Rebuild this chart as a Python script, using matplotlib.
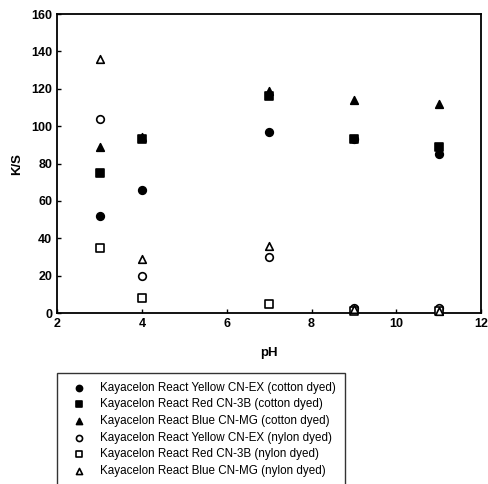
import matplotlib
matplotlib.use("Agg")
import matplotlib.pyplot as plt

plt.rcParams['font.family'] = ['Liberation Sans', 'DejaVu Sans']

ph = [3, 4, 7, 9, 11]

# K/S values
yellow_cotton = [52, 66, 97, 93, 85]
red_cotton = [75, 93, 116, 93, 89]
blue_cotton = [89, 94, 119, 114, 112]
yellow_nylon = [104, 20, 30, 3, 3]
red_nylon = [35, 8, 5, 1, 1]
blue_nylon = [136, 29, 36, 2, 1]

labels = [
    "Kayacelon React Yellow CN-EX (cotton dyed)",
    "Kayacelon React Red CN-3B (cotton dyed)",
    "Kayacelon React Blue CN-MG (cotton dyed)",
    "Kayacelon React Yellow CN-EX (nylon dyed)",
    "Kayacelon React Red CN-3B (nylon dyed)",
    "Kayacelon React Blue CN-MG (nylon dyed)",
]

fig = plt.figure(figsize=(4.88, 4.84), dpi=100)
ax = fig.add_axes([0.117, 0.353, 0.869, 0.618])

series = [yellow_cotton, red_cotton, blue_cotton, yellow_nylon, red_nylon, blue_nylon]
markers = ['o', 's', '^', 'o', 's', '^']
filled = [True, True, True, False, False, False]

handles = []
for vals, m, f, lab in zip(series, markers, filled, labels):
    h = ax.scatter(ph, vals, marker=m, s=30,
                   facecolors='black' if f else 'white',
                   edgecolors='black', linewidths=1.2, label=lab, zorder=3,
                   clip_on=False)
    handles.append(h)

ax.set_xlim(2, 12)
ax.set_ylim(0, 160)
ax.set_xticks([2, 4, 6, 8, 10, 12])
ax.set_yticks(range(0, 161, 20))
ax.tick_params(direction='in', length=3, width=1, labelsize=9)
for t in ax.get_xticklabels() + ax.get_yticklabels():
    t.set_fontweight('bold')
for s in ax.spines.values():
    s.set_linewidth(1.3)

ax.set_xlabel("pH", fontsize=9.5, fontweight='bold', labelpad=12)
ax.set_ylabel("K/S", fontsize=9.5, fontweight='bold', labelpad=6)

leg = fig.legend(handles=handles, loc='upper left',
                 bbox_to_anchor=(57 / 488, 1 - 373 / 484),
                 borderaxespad=0.0,
                 fontsize=8.4, frameon=True, fancybox=False,
                 edgecolor='black', borderpad=0.75, labelspacing=0.4,
                 handlelength=2.25, handletextpad=0.72, markerscale=0.8)
leg.get_frame().set_linewidth(1.0)

fig.savefig("out.png", dpi=100)
